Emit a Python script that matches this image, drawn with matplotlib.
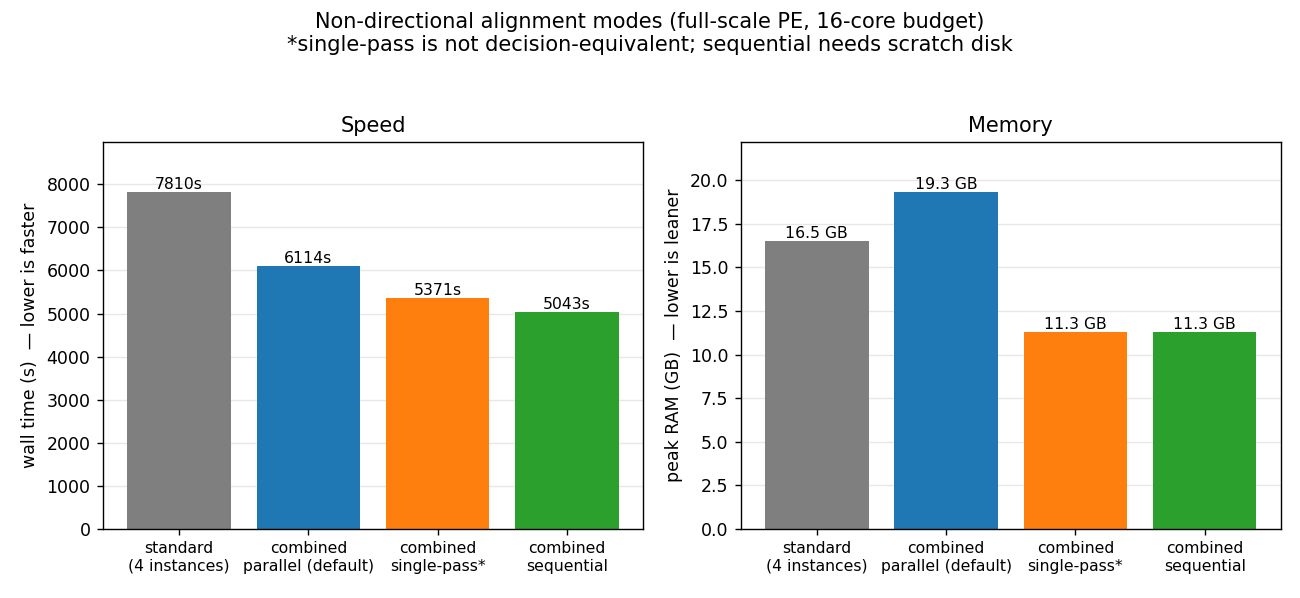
import matplotlib
matplotlib.use('Agg')
import matplotlib.pyplot as plt
import numpy as np

modes = ['standard\n(4 instances)', 'combined\nparallel (default)',
         'combined\nsingle-pass*', 'combined\nsequential']
wall_time = [7810, 6114, 5371, 5043]
peak_ram = [16.5, 19.3, 11.3, 11.3]
colors = ['tab:gray', 'tab:blue', 'tab:orange', 'tab:green']

fig, (ax1, ax2) = plt.subplots(1, 2, figsize=(10.4, 4.784), dpi=125)
fig.subplots_adjust(left=0.079, right=0.9854, bottom=0.1154, top=0.7625, wspace=0.18)

x = np.arange(len(modes))

# speed panel
b1 = ax1.bar(x, wall_time, color=colors)
ax1.bar_label(b1, labels=['%ds' % v for v in wall_time], fontsize=9, padding=0)
ax1.set_title('Speed', fontsize=12)
ax1.set_ylabel('wall time (s)  — lower is faster', fontsize=10)
ax1.set_ylim(0, max(wall_time) * 1.15)
ax1.set_xticks(x)
ax1.set_xticklabels(modes, fontsize=9)
ax1.tick_params(axis='y', labelsize=10)
ax1.grid(axis='y', alpha=0.3)
ax1.set_axisbelow(True)

# memory panel
b2 = ax2.bar(x, peak_ram, color=colors)
ax2.bar_label(b2, labels=['%.1f GB' % v for v in peak_ram], fontsize=9, padding=0)
ax2.set_title('Memory', fontsize=12)
ax2.set_ylabel('peak RAM (GB)  — lower is leaner', fontsize=10)
ax2.set_ylim(0, max(peak_ram) * 1.15)
ax2.set_xticks(x)
ax2.set_xticklabels(modes, fontsize=9)
ax2.tick_params(axis='y', labelsize=10)
ax2.grid(axis='y', alpha=0.3)
ax2.set_axisbelow(True)

fig.suptitle('Non-directional alignment modes (full-scale PE, 16-core budget)\n'
             '*single-pass is not decision-equivalent; sequential needs scratch disk',
             fontsize=12, y=0.98)

plt.savefig('out.png')
